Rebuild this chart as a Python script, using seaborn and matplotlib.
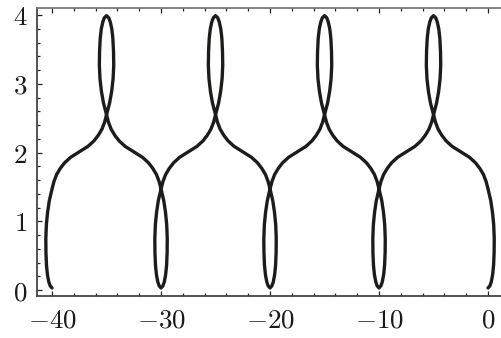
import numpy as np
import pandas as pd
import matplotlib
matplotlib.use("Agg")
import matplotlib.pyplot as plt
from matplotlib.ticker import FixedLocator, MultipleLocator
import seaborn as sns

# One period of the looping curve, measured from the bottom of a lower loop:
# up the left side of the lower loop, over to the upper loop, around it,
# and down to the next lower loop.
loop_dx = [0.00, -0.17, -0.30, -0.42, -0.51, -0.56, -0.57, -0.52, -0.41, -0.25, 0.00,
           0.18, 0.42, 0.76, 1.15, 1.70, 2.50, 3.30, 3.85, 4.24, 4.58, 4.82, 5.00,
           5.28, 5.47, 5.60, 5.66, 5.64, 5.58, 5.48, 5.34, 5.20, 5.00,
           4.80, 4.66, 4.52, 4.42, 4.36, 4.34, 4.40, 4.53, 4.72, 5.00,
           5.18, 5.42, 5.76, 6.15, 6.70, 7.50, 8.30, 8.85, 9.24, 9.58, 9.82, 10.00,
           10.25, 10.41, 10.52, 10.57, 10.56, 10.51, 10.42, 10.30, 10.17]
loop_y = [0.03, 0.06, 0.12, 0.22, 0.36, 0.55, 0.75, 0.95, 1.13, 1.30, 1.47,
          1.58, 1.68, 1.77, 1.85, 1.93, 2.01, 2.09, 2.17, 2.25, 2.34, 2.44, 2.55,
          2.72, 2.89, 3.07, 3.27, 3.47, 3.66, 3.80, 3.90, 3.96, 3.99,
          3.96, 3.90, 3.80, 3.66, 3.47, 3.27, 3.07, 2.89, 2.72, 2.55,
          2.44, 2.34, 2.25, 2.17, 2.09, 2.01, 1.93, 1.85, 1.77, 1.68, 1.58, 1.47,
          1.30, 1.13, 0.95, 0.75, 0.55, 0.36, 0.22, 0.12, 0.06]
period_starts = [-40, -30, -20, -10]
end_x, end_y = 0.0, 0.03

x_ticks = [-40, -30, -20, -10, 0]
x_labels = ["$-40$", "$-30$", "$-20$", "$-10$", "$0$"]
y_ticks = [0, 1, 2, 3, 4]
y_labels = ["$0$", "$1$", "$2$", "$3$", "$4$"]

xs, ys = [], []
for start in period_starts:
    xs.extend(start + d for d in loop_dx)
    ys.extend(loop_y)
xs.append(end_x)
ys.append(end_y)
df = pd.DataFrame({"x": xs, "y": ys})

sns.set_theme(style="white")
plt.rcParams["mathtext.fontset"] = "cm"

fig = plt.figure(figsize=(5.01, 3.38), dpi=100)
ax = fig.add_axes([37 / 501, 42 / 338, 1 - 37 / 501, 288 / 338])

sns.lineplot(data=df, x="x", y="y", sort=False, estimator=None,
             color="#1e1b1b", linewidth=2.4, ax=ax)

ax.set_xlim(-41.38, 1.19)
ax.set_ylim(-0.087, 4.102)
ax.set_xlabel("")
ax.set_ylabel("")

ax.xaxis.set_major_locator(FixedLocator(x_ticks))
ax.set_xticklabels(x_labels)
ax.xaxis.set_minor_locator(MultipleLocator(2))
ax.yaxis.set_major_locator(FixedLocator(y_ticks))
ax.set_yticklabels(y_labels)
ax.yaxis.set_minor_locator(MultipleLocator(0.2))

ax.tick_params(which="both", direction="in", top=True, bottom=True,
               left=True, right=False, color="#222222", width=0.9)
ax.tick_params(which="major", length=3.5)
ax.tick_params(which="minor", length=2.0)
ax.tick_params(axis="x", which="major", labelsize=19.5, pad=8, labelcolor="#1a1a1a")
ax.tick_params(axis="y", which="major", labelsize=19.5, pad=7, labelcolor="#1a1a1a")

for side in ["left", "bottom"]:
    ax.spines[side].set_color("#444444")
    ax.spines[side].set_linewidth(1.3)
ax.spines["top"].set_color("#777777")
ax.spines["top"].set_linewidth(1.3)
ax.spines["right"].set_visible(False)

fig.savefig("out.png", dpi=100)
